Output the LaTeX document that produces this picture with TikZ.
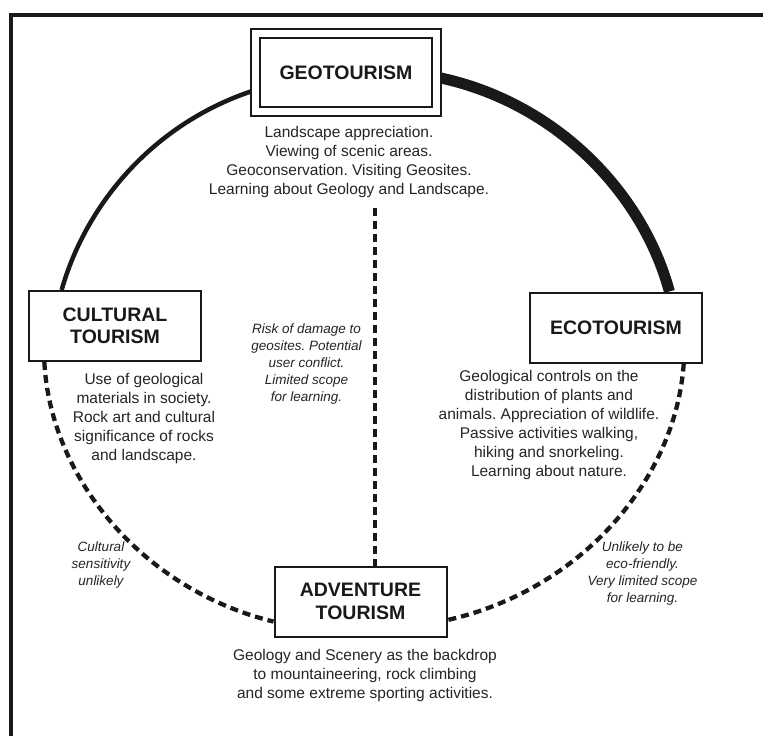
\documentclass[tikz,border=0pt]{standalone}
\usepackage{fontspec}
\setmainfont{Liberation Sans}
\usetikzlibrary{positioning,backgrounds}

\definecolor{ink}{gray}{0.1}
\definecolor{textgray}{gray}{0.14}

\newcommand{\boxfont}{\fontsize{19.5}{22.5}\selectfont\bfseries}
\newcommand{\descfont}{\fontsize{15.5}{19}\selectfont}
\newcommand{\notefont}{\fontsize{13.5}{17}\selectfont\itshape}
\frenchspacing

\begin{document}
\begin{tikzpicture}[
    x=1pt, y=-1pt,
    box/.style={rectangle, draw=ink, line width=2pt, fill=white, minimum width=172pt, minimum height=70pt, align=center, font=\boxfont, text=ink},
    geobox/.style={box, double, double distance=7pt, minimum width=181pt, minimum height=78pt},
    desc/.style={align=center, font=\descfont, text=textgray, inner sep=0pt},
    note/.style={align=center, font=\notefont, text=textgray, inner sep=0pt},
    solidarc/.style={draw=ink, line width=4.5pt},
    heavyarc/.style={draw=ink, line width=11pt},
    dasharc/.style={draw=ink, line width=4.3pt, dash pattern=on 8pt off 5pt}
]
\useasboundingbox (0,0) rectangle (763,736);

% Frame
\draw[ink, line width=4pt] (763,15.3) -- (11.3,15.3) -- (11.3,736);

% Boxes
\node[geobox] (geo) at (346,72.5) {GEOTOURISM};
\node[box] (cult) at (115,326) {CULTURAL\\TOURISM};
\node[box] (eco) at (616,327.5) {ECOTOURISM};
\node[box] (adv) at (360.5,601.5) {ADVENTURE\\TOURISM};

% Activities under each box
\node[desc, below=14pt of geo, xshift=3pt] (geotext) {Landscape appreciation.\\Viewing of scenic areas.\\Geoconservation. Visiting Geosites.\\Learning about Geology and Landscape.};
\node[desc] (culttext) at (144,418) {Use of geological\\materials in society.\\Rock art and cultural\\significance of rocks\\and landscape.};
\node[desc] (ecotext) at (549,424.5) {Geological controls on the\\distribution of plants and\\animals. Appreciation of wildlife.\\Passive activities walking,\\hiking and snorkeling.\\Learning about nature.};
\node[desc, below=11.5pt of adv, xshift=4.5pt] (advtext) {Geology and Scenery as the backdrop\\to mountaineering, rock climbing\\and some extreme sporting activities.};

% Drawbacks
\node[note] (risk) at (306.5,364.5) {Risk of damage to\\geosites. Potential\\user conflict.\\Limited scope\\for learning.};
\node[note] (cultrisk) at (101,565) {Cultural\\sensitivity\\unlikely};
\node[note] (ecorisk) at (642.5,574) {Unlikely to be\\eco-friendly.\\Very limited scope\\for learning.};

% Links round the ring
\begin{scope}[on background layer]
    \draw[solidarc] (geo.191) .. controls +(-99,32) and +(25,-88) .. (cult.146);
    \draw[heavyarc] (geo.357) .. controls +(117,24) and +(-27,-100) .. (eco.34);
    \draw[dasharc] (cult.207) .. controls +(6,116) and +(-131,-32) .. (adv.193);
    \draw[dasharc] (eco.332) .. controls +(-8,117) and +(133,-30) .. (adv.348);
\end{scope}

% Geotourism to adventure
\coordinate (riskline) at (375,208);
\draw[dasharc] (riskline) -- (riskline |- adv.north);
\end{tikzpicture}
\end{document}
